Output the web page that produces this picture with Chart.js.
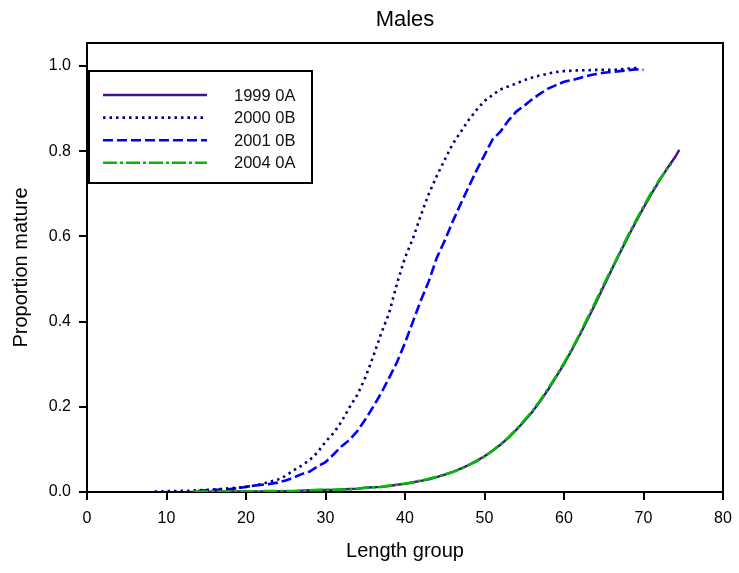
<!DOCTYPE html>
<html>
<head>
<meta charset="utf-8">
<script src="https://cdn.jsdelivr.net/npm/chart.js@4/dist/chart.umd.min.js"></script>
<style>
  html, body { margin: 0; padding: 0; background: #fff; }
  #wrap { width: 739px; height: 573px; }
</style>
</head>
<body>
<div id="wrap"><canvas id="c" width="739" height="573"></canvas></div>
<script>
// ---- Data ----
const seriesNames = ['1999 0A', '2000 0B', '2001 0B', '2004 0A'];

const len1999 = [13,14,15,16,17,18,19,20,21,22,23,24,25,26,27,28,29,30,31,32,33,34,35,36,37,38,39,40,41,42,43,44,45,46,47,48,49,50,51,52,53,54,55,56,57,58,59,60,61,62,63,64,65,66,67,68,69,70,71,72,73,74,74.5];
const val1999 = [0.000,0.000,0.000,0.001,0.001,0.001,0.001,0.001,0.001,0.001,0.001,0.002,0.002,0.002,0.003,0.004,0.004,0.005,0.005,0.006,0.007,0.008,0.010,0.011,0.012,0.014,0.017,0.019,0.023,0.026,0.030,0.035,0.041,0.047,0.055,0.063,0.073,0.084,0.097,0.111,0.127,0.146,0.166,0.188,0.213,0.240,0.270,0.300,0.334,0.369,0.406,0.444,0.483,0.522,0.560,0.597,0.633,0.667,0.700,0.731,0.760,0.787,0.803];

const len2000 = [8.5,9,10,11,12,13,14,15,16,17,18,19,20,21,22,23,24,25,26,27,28,29,30,31,32,33,34,35,36,37,38,39,40,41,42,43,44,45,46,47,48,49,50,51,52,53,54,55,56,57,58,59,60,61,62,63,64,65,66,67,68,69,69.5];
const val2000 = [0.001,0.001,0.002,0.002,0.003,0.003,0.004,0.005,0.006,0.007,0.009,0.010,0.012,0.015,0.019,0.024,0.029,0.038,0.051,0.062,0.075,0.093,0.118,0.138,0.165,0.198,0.228,0.268,0.318,0.372,0.420,0.490,0.550,0.595,0.650,0.700,0.742,0.780,0.817,0.845,0.873,0.897,0.918,0.932,0.945,0.952,0.959,0.967,0.973,0.978,0.982,0.986,0.988,0.989,0.990,0.990,0.991,0.991,0.991,0.992,0.994,0.995,0.995];

const len2001 = [14,15,16,17,18,19,20,21,22,23,24,25,26,27,28,29,30,31,32,33,34,35,36,37,38,39,40,41,42,43,44,45,46,47,48,49,50,51,52,53,54,55,56,57,58,59,60,61,62,63,64,65,66,67,68,69,70];
const val2001 = [0.003,0.004,0.005,0.006,0.007,0.009,0.012,0.015,0.017,0.019,0.022,0.027,0.034,0.042,0.048,0.060,0.070,0.088,0.107,0.122,0.143,0.170,0.200,0.232,0.268,0.305,0.350,0.400,0.450,0.495,0.550,0.590,0.635,0.676,0.716,0.755,0.791,0.827,0.846,0.872,0.893,0.907,0.922,0.935,0.947,0.955,0.963,0.967,0.972,0.977,0.981,0.984,0.986,0.988,0.990,0.992,0.991];

const len2004 = [13.5,14,15,16,17,18,19,20,21,22,23,24,25,26,27,28,29,30,31,32,33,34,35,36,37,38,39,40,41,42,43,44,45,46,47,48,49,50,51,52,53,54,55,56,57,58,59,60,61,62,63,64,65,66,67,68,69,70,71,72,73,73.5];
const val2004 = [0.001,0.001,0.001,0.001,0.001,0.001,0.001,0.001,0.001,0.002,0.002,0.002,0.002,0.002,0.003,0.004,0.005,0.005,0.005,0.006,0.006,0.007,0.010,0.011,0.012,0.015,0.017,0.020,0.022,0.027,0.031,0.036,0.041,0.047,0.054,0.063,0.072,0.083,0.097,0.112,0.128,0.147,0.168,0.190,0.215,0.243,0.272,0.303,0.336,0.372,0.410,0.448,0.487,0.524,0.562,0.600,0.636,0.670,0.703,0.733,0.760,0.770];

const xTicks = [0,10,20,30,40,50,60,70,80];
const yTicks = [0.0,0.2,0.4,0.6,0.8,1.0];

const FONT = "'Liberation Sans', Arial, sans-serif";

function pts(xs, ys) { return xs.map((x, i) => ({ x: x, y: ys[i] })); }

// centre the chart title over the plot area, as in the reference
const titleCenterPlugin = {
  id: 'titleCenter',
  afterLayout(chart) {
    const tb = chart.titleBlock;
    if (tb) { tb.left = chart.chartArea.left; tb.right = chart.chartArea.right; }
  }
};

const framePlugin = {
  id: 'frame',
  afterDatasetsDraw(chart) {
    const { ctx, chartArea: a } = chart;
    ctx.save();
    ctx.strokeStyle = '#000';
    ctx.lineWidth = 2;
    ctx.beginPath();
    ctx.moveTo(a.left, a.top);
    ctx.lineTo(a.right, a.top);
    ctx.lineTo(a.right, a.bottom);
    ctx.stroke();
    ctx.restore();
  }
};

const legendPlugin = {
  id: 'boxLegend',
  afterDraw(chart) {
    const { ctx, chartArea: a } = chart;
    const bx = a.left + 2, by = a.top + 28, bw = 223, bh = 112;
    ctx.save();
    ctx.fillStyle = '#fff';
    ctx.fillRect(bx, by, bw, bh);
    ctx.strokeStyle = '#000';
    ctx.lineWidth = 2;
    ctx.strokeRect(bx, by, bw, bh);
    ctx.font = '16.5px ' + FONT;
    ctx.textBaseline = 'middle';
    ctx.textAlign = 'left';
    chart.data.datasets.forEach((ds, i) => {
      const y = by + 24 + i * 22.6;
      ctx.strokeStyle = ds.borderColor;
      ctx.lineWidth = ds.borderWidth;
      ctx.setLineDash(ds.borderDash || []);
      ctx.beginPath();
      ctx.moveTo(bx + 14, y);
      ctx.lineTo(bx + 118, y);
      ctx.stroke();
      ctx.setLineDash([]);
      ctx.fillStyle = '#111';
      ctx.fillText(ds.label, bx + 145, y + 1);
    });
    ctx.restore();
  }
};

new Chart(document.getElementById('c'), {
  type: 'line',
  data: {
    datasets: [
      { label: seriesNames[0], data: pts(len1999, val1999), borderColor: '#46108a', borderWidth: 2.4, borderDash: [], order: 2 },
      { label: seriesNames[1], data: pts(len2000, val2000), borderColor: '#000080', borderWidth: 2.6, borderDash: [2.5, 4], order: 3 },
      { label: seriesNames[2], data: pts(len2001, val2001), borderColor: '#0000ff', borderWidth: 2.6, borderDash: [10, 4], order: 4 },
      { label: seriesNames[3], data: pts(len2004, val2004), borderColor: '#00bb00', borderWidth: 2.6, borderDash: [14, 3, 3, 3], order: 1 }
    ]
  },
  options: {
    responsive: false,
    animation: false,
    elements: { point: { radius: 0 }, line: { tension: 0, fill: false } },
    layout: { padding: { left: 0, right: 16, top: 0, bottom: 0 } },
    plugins: {
      legend: { display: false },
      tooltip: { enabled: false },
      title: {
        display: true,
        text: 'Males',
        color: '#000',
        font: { family: FONT, size: 22, weight: 'normal' },
        padding: { top: 7, bottom: 9.6 }
      }
    },
    scales: {
      x: {
        type: 'linear',
        min: 0, max: 80,
        afterFit(s) { s.height = 81; s.paddingLeft = 0; s.paddingRight = 0; },
        afterBuildTicks(s) { s.ticks = xTicks.map(v => ({ value: v })); },
        ticks: { color: '#000', font: { family: FONT, size: 16 }, padding: 9, maxRotation: 0, autoSkip: false },
        grid: { display: true, drawOnChartArea: false, drawTicks: true, tickLength: 8, color: '#000', lineWidth: 2 },
        border: { display: true, color: '#000', width: 2 },
        title: { display: true, text: 'Length group', color: '#000', font: { family: FONT, size: 20 }, padding: { top: 0, bottom: 10 } }
      },
      y: {
        type: 'linear',
        min: 0, max: 1.054,
        afterFit(s) { s.width = 87; },
        afterBuildTicks(s) { s.ticks = yTicks.map(v => ({ value: v })); },
        ticks: { color: '#000', font: { family: FONT, size: 16 }, padding: 8, callback: v => Number(v).toFixed(1) },
        grid: { display: true, drawOnChartArea: false, drawTicks: true, tickLength: 8, color: '#000', lineWidth: 2 },
        border: { display: true, color: '#000', width: 2 },
        title: { display: true, text: 'Proportion mature', color: '#000', font: { family: FONT, size: 20 }, padding: { top: 9, bottom: 0 } }
      }
    }
  },
  plugins: [titleCenterPlugin, framePlugin, legendPlugin]
});
</script>
</body>
</html>
